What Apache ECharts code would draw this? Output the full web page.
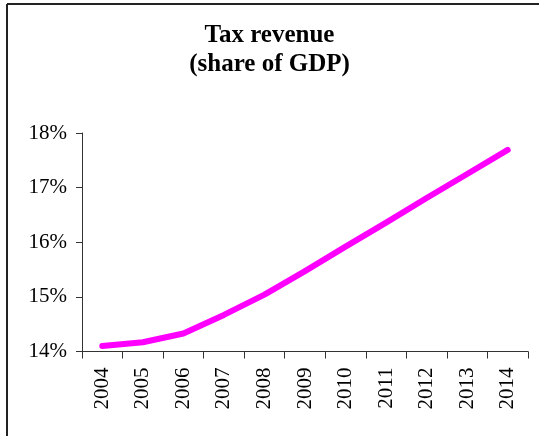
<!DOCTYPE html>
<html>
<head>
<meta charset="utf-8">
<script src="https://cdn.jsdelivr.net/npm/echarts@6/dist/echarts.min.js"></script>
<style>
html,body{margin:0;padding:0;background:#fff;}
#chart{width:539px;height:436px;}
</style>
</head>
<body>
<div id="chart"></div>
<script>
const years = ['2004','2005','2006','2007','2008','2009','2010','2011','2012','2013','2014'];
const taxRevenue = [14.10, 14.17, 14.33, 14.67, 15.04, 15.47, 15.92, 16.36, 16.81, 17.25, 17.69];
const yTicks = [14, 15, 16, 17, 18];

const font = 'Liberation Serif, Times New Roman, serif';
const chart = echarts.init(document.getElementById('chart'), null, {renderer: 'canvas'});
chart.setOption({
  animation: false,
  backgroundColor: '#fff',
  title: {
    text: 'Tax revenue\n(share of GDP)',
    left: 'center',
    top: 16,
    textStyle: {fontFamily: font, fontSize: 25, fontWeight: 'bold', color: '#000', lineHeight: 29}
  },
  graphic: [
    {type: 'line', shape: {x1: 7, y1: 4, x2: 539, y2: 4}, style: {stroke: '#222', lineWidth: 2}},
    {type: 'line', shape: {x1: 7, y1: 4, x2: 7, y2: 436}, style: {stroke: '#222', lineWidth: 2}}
  ],
  grid: {left: 82, right: 11, top: 133, bottom: 84.5, containLabel: false},
  xAxis: {
    type: 'category',
    data: years,
    boundaryGap: true,
    axisLine: {lineStyle: {color: '#333', width: 1}},
    axisTick: {show: true, length: 7, lineStyle: {color: '#333'}},
    axisLabel: {rotate: 90, margin: 16, fontFamily: font, fontSize: 21, color: '#000', interval: 0},
    splitLine: {show: false}
  },
  yAxis: {
    type: 'value',
    min: yTicks[0],
    max: yTicks[yTicks.length - 1],
    interval: 1,
    axisLine: {show: true, lineStyle: {color: '#333', width: 1}},
    axisTick: {show: true, length: 6, lineStyle: {color: '#333'}},
    axisLabel: {margin: 15, fontFamily: font, fontSize: 21, color: '#000', formatter: '{value}%'},
    splitLine: {show: false}
  },
  series: [{
    type: 'line',
    data: taxRevenue,
    showSymbol: false,
    symbol: 'none',
    lineStyle: {color: '#FF00FF', width: 6, cap: 'round', join: 'round'},
    itemStyle: {color: '#FF00FF'}
  }]
});
</script>
</body>
</html>
